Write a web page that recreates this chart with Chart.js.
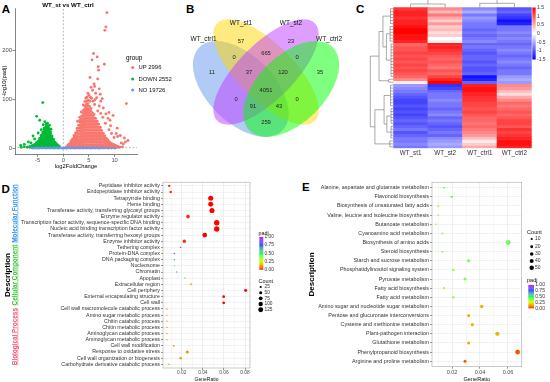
<!DOCTYPE html>
<html><head><meta charset="utf-8">
<script src="https://cdn.jsdelivr.net/npm/chart.js@4.4.1/dist/chart.umd.min.js"></script>
<style>
html,body{margin:0;padding:0;background:#fff;}
body{width:550px;height:382px;position:relative;overflow:hidden;font-family:"Liberation Sans",Arial,sans-serif;}
canvas{position:absolute;}
.lt{position:absolute;font-weight:bold;font-size:11.5px;line-height:11.5px;color:#000;}
</style></head><body>
<div class="lt" style="left:1.7px;top:3.5px">A</div>
<div class="lt" style="left:186px;top:3.5px">B</div>
<div class="lt" style="left:356px;top:3.5px">C</div>
<div class="lt" style="left:1.5px;top:183.5px">D</div>
<div class="lt" style="left:302px;top:181.5px">E</div>
<script>
// ---------------- DATA ----------------
// Panel A (volcano): estimated point clouds [log2FC, [-log10(padj) ...]]
const groupNames = ['UP','DOWN','NO'];
const groupCounts = [2996, 2552, 19726];
const fcThreshold = 0;
const padjThreshold = 1.3;
const xTicksA = [-5, 0, 5, 10];
const yTicksA = [0, 100, 200];
const upCloud = [
 [0.6,[1,3]],[0.9,[1,4,7]],[1.2,[2,5,9]],[1.5,[1,4,8,12,15]],[1.8,[2,6,10,14,19]],
 [2.1,[1,5,9,13,17,22,26]],[2.4,[2,6,11,16,21,26,31]],[2.7,[1,5,10,15,20,25,31,36,41]],
 [3.0,[2,7,12,17,23,29,35,41,47]],[3.3,[1,5,10,16,22,28,34,40,46,53,58]],
 [3.6,[2,7,13,19,25,31,37,43,49,55,61,66]],[3.9,[1,5,11,17,23,29,35,41,47,53,59,65,71,77]],
 [4.2,[2,8,14,20,26,32,38,44,50,56,62,68,74,80,86]],[4.5,[1,6,12,18,24,30,36,42,48,54,60,66,72,78,84,90,96]],
 [4.8,[2,8,14,20,26,32,38,44,50,56,62,68,74,80,86,91]],[5.1,[1,6,12,18,24,30,36,42,48,54,60,66,72,78,85]],
 [5.4,[2,8,14,20,26,32,38,44,50,56,62,68,75,81]],[5.7,[1,6,12,18,24,30,36,42,48,54,60,66,72]],
 [6.0,[2,8,14,20,26,32,38,44,50,56,62,69]],[6.3,[1,6,12,18,24,30,36,42,48,54,61]],
 [6.6,[2,8,14,20,26,32,38,44,50,55]],[6.9,[1,6,12,18,24,30,36,42,49]],[7.2,[2,8,14,20,26,32,38,43]],
 [7.5,[1,6,12,18,24,30,36]],[7.8,[2,7,12,18,24,30]],[8.1,[1,5,10,15,20,25]],[8.4,[2,6,10,15,20]],
 [8.7,[1,5,9,13,17]],[9.0,[2,5,9,13]],[9.4,[1,4,7,10]],[9.8,[2,5,8]],[10.2,[1,4,6]],[10.6,[2,4]],[11.0,[2]],[11.5,[3]]
];
const upOutliers = [[8.5,276],[8.3,247],[8.1,240],[5.9,193],[6.6,186],[5.6,180],[8.0,171],[6.8,166],[6.9,159],[5.2,144],
 [6.0,131],[5.4,124],[7.0,121],[6.3,112],[12.3,91],[9.7,67],[8.3,70],[10.3,30],[4.6,104],[5.0,108],[5.3,104],[7.3,96],
 [7.8,82],[8.7,61],[9.2,46],[10.6,24],[11.3,11],[12.1,13],[11.7,9],[6.2,99],[5.8,96],[7.0,86],[3.9,88],[4.2,95],[5.5,102],
 [6.1,89],[6.7,76],[7.3,71],[7.7,63],[8.2,51],[8.9,38],[9.4,30],[9.9,22],[4.4,102],[4.8,112],[3.5,74],[3.2,63],[2.8,55],
 [6.5,103],[7.6,101],[6.1,126],[5.7,118],[6.7,141],[8.9,73],[9.1,57],[10.5,41],[11.1,26],[12.6,16],[11.9,21],[7.2,110],[4.9,98],[5.2,96]];
const downCloud = [
 [-0.7,[1,3]],[-1.0,[1,4,6]],[-1.3,[2,5,9]],[-1.6,[1,4,8,12]],[-1.9,[2,6,10,14,18]],[-2.2,[1,5,9,13,17,21,25]],
 [-2.5,[2,6,10,14,18,22,26,30,34]],[-2.8,[1,5,9,13,17,21,25,29,33,37,41]],[-3.1,[2,6,10,14,18,22,26,30,34,38,42,45]],
 [-3.4,[1,5,9,13,17,21,25,29,33,37,41,44]],[-3.7,[2,6,10,14,18,22,26,30,34,38,41]],[-4.0,[1,5,9,13,17,21,25,29,33]],
 [-4.3,[2,6,10,14,18,22,26]],[-4.6,[1,5,9,13,17,20]],[-4.9,[2,6,10,14]],[-5.2,[1,5,9,12]],[-5.6,[2,5,8]],[-6.0,[1,4,6]],
 [-6.5,[2,4]],[-7.0,[2]],[-7.6,[3]],[-8.2,[2]]
];
const downOutliers = [[-4.0,93],[-5.2,65],[-4.6,57],[-3.6,54],[-3.1,51],[-2.7,47],[-5.9,25],[-6.8,13],[-7.6,8],[-4.9,31],
 [-5.6,19],[-3.9,48],[-2.4,39],[-3.3,49],[-4.3,38],[-8.3,6],[-6.3,11]];
const noCloud = [[-6.2,[0.4]],[-5.8,[0.2,0.9]],[-5.4,[0.5]],[-5.0,[0.2,1.0]],[-4.6,[0.6]],[-4.2,[0.3,1.1]],[-3.8,[0.7]],
 [-3.4,[0.2,1.0]],[-3.0,[0.5]],[-2.6,[0.3,1.1]],[-2.2,[0.6]],[-1.8,[0.2,1.0]],[-1.4,[0.5,1.2]],[-1.0,[0.2,0.8]],
 [-0.6,[0.4,1.1]],[-0.2,[0.1,0.7]],[0.2,[0.3,1.0]],[0.6,[0.1,0.6]],[1.0,[0.4,1.1]],[1.4,[0.2,0.8]],[1.8,[0.5,1.2]],
 [2.2,[0.2,0.9]],[2.6,[0.6]],[3.0,[0.3,1.1]],[3.4,[0.7]],[3.8,[0.2,1.0]],[4.2,[0.5]],[4.6,[0.3,1.1]],[5.0,[0.6]],
 [5.4,[0.2,0.9]],[5.8,[0.5]],[6.2,[0.3,1.0]],[6.6,[0.6]],[7.0,[0.2]],[7.4,[0.5]],[7.8,[0.3]],[8.3,[0.4]],[8.8,[0.2]],[9.4,[0.3]],[10.0,[0.2]]];

// Panel B (Venn)
const vennSets = ['WT_ctrl1','WT_st1','WT_st2','WT_ctrl2'];
const vennCounts = [57,23,11,665,35,0,0,37,120,4051,0,0,91,43,259];

// Panel C (heatmap, rows x [WT_st1, WT_st2, WT_ctrl1, WT_ctrl2])
const heatSamples = ['WT_st1','WT_st2','WT_ctrl1','WT_ctrl2'];
const heatRows = [
 [1.2,0.7,-0.7,-1.0],[1.3,0.4,-0.5,-0.9],[1.3,0.8,-0.8,-1.1],[1.2,0.5,-0.6,-1.2],[1.3,0.3,-0.7,-1.4],[1.3,0.6,-0.8,-1.3],
 [1.4,0.3,-0.8,-0.8],[1.5,0.4,-0.9,-0.8],[1.5,0.2,-0.8,-0.7],[1.4,0.3,-0.9,-0.8],[1.4,0.0,-0.8,-0.7],[1.3,0.1,-0.7,-0.8],
 [0.9,1.3,-0.9,-0.9],[1.0,1.3,-0.8,-0.8],[1.0,1.2,-0.9,-0.7],[1.1,1.1,-1.0,-0.8],[1.0,1.0,-0.9,-0.9],[1.1,0.9,-0.9,-0.8],
 [1.0,1.0,-1.0,-0.7],[1.1,0.9,-0.9,-0.8],[1.0,0.8,-1.0,-0.9],[1.1,1.0,-1.0,-0.8],[1.0,0.9,-0.9,-0.8],[0.9,1.1,-1.4,-0.6],
 [0.7,1.3,-1.3,-0.5],[0.1,1.5,-0.9,-0.6],
 [-0.6,-1.2,1.3,0.7],[-0.7,-1.1,1.4,0.6],[-0.8,-0.9,1.4,0.4],[-0.9,-0.8,1.3,0.2],[-1.0,-0.8,1.2,0.5],[-1.1,-0.7,1.2,0.7],
 [-1.1,-0.8,1.1,0.9],[-1.0,-0.8,1.1,0.8],[-1.1,-0.9,1.0,0.9],[-1.0,-0.8,1.1,1.0],[-1.1,-0.7,1.0,0.9],[-1.0,-0.9,0.9,1.0],
 [-0.9,-0.8,0.9,1.1],[-1.0,-0.9,0.8,1.1],[-0.9,-1.0,0.9,1.0],[-0.8,-0.9,0.8,1.2],[-1.0,-0.8,0.7,1.1],[-0.9,-0.9,0.6,1.2],
 [-0.8,-0.7,0.4,1.3],[-0.8,-0.6,0.1,1.4],[-0.7,-0.5,0.3,1.4],[-0.8,-0.6,0.5,1.3]
];
const heatLegendTicks = [1.5,1,0.5,0,-0.5,-1,-1.5];
// dendrograms: [height, left, right]; {g:[firstRow,lastRow], h}
const rowTree = [1.0,
  [0.62, [0.45, {g:[0,5],h:0.12}, [0.3, {g:[6,11],h:0.14}, {g:[12,23],h:0.1}]], {g:[24,25],h:0.2}],
  [0.8, [0.4, {g:[26,33],h:0.12}, [0.28, {g:[34,39],h:0.1}, {g:[40,44],h:0.1}]], {g:[45,47],h:0.15}]];
const colTree = [1.0, [0.33, 0, 1], [0.4, 2, 3]];

// Panel D (GO enrichment)
const dTerms = ["Peptidase inhibitor activity","Endopeptidase inhibitor activity","Tetrapyrrole binding","Heme binding",
 "Transferase activity, transferring glycosyl groups","Enzyme regulator activity",
 "Transcription factor activity, sequence-specific DNA binding","Nucleic acid binding transcription factor activity",
 "Transferase activity, transferring hexosyl groups","Enzyme inhibitor activity","Tethering complex","Protein-DNA complex",
 "DNA packaging complex","Nucleosome","Chromatin","Apoplast","Extracellular region","Cell periphery",
 "External encapsulating structure","Cell wall","Cell wall macromolecule catabolic process","Amino sugar metabolic process",
 "Chitin catabolic process","Chitin metabolic process","Aminoglycan catabolic process","Aminoglycan metabolic process",
 "Cell wall modification","Response to oxidative stress","Cell wall organization or biogenesis","Carbohydrate derivative catabolic process"];
const dRatio = [0.0082,0.0096,0.0475,0.0475,0.0487,0.026,0.0532,0.0532,0.0418,0.0225,0.019,0.013,0.013,0.013,0.0152,0.0228,
 0.0288,0.0806,0.0598,0.0598,0.0061,0.0061,0.0061,0.0061,0.0061,0.0061,0.0124,0.0253,0.019,0.008];
const dCount = [30,30,130,128,135,65,150,150,115,58,10,12,12,11,13,18,22,46,40,40,10,10,10,10,10,10,18,50,30,12];
const dPadj = [0.01,0.01,0,0,0,0.01,0,0,0,0.01,0.97,0.9,0.66,0.57,0.62,0.37,0.14,0,0,0,0.11,0.11,0.11,0.11,0.11,0.11,0.11,0.1,0.1,0.1];
const dGroups = [["Molecular Function",0,9],["Cellular Component",10,19],["Biological Process",20,29]];
const dCountLegend = [25,50,75,100,125];
const dTicks = [0.01,0.02,0.03,0.04,0.05,0.06,0.07,0.08];

// Panel E (KEGG enrichment)
const eTerms = ["Alanine, aspartate and glutamate metabolism","Flavonoid biosynthesis","Biosynthesis of unsaturated fatty acids",
 "Valine, leucine and isoleucine biosynthesis","Butanoate metabolism","Cyanoamino acid metabolism","Biosynthesis of amino acids",
 "Steroid biosynthesis","Starch and sucrose metabolism","Phosphatidylinositol signaling system","Pyruvate metabolism",
 "Fatty acid biosynthesis","Fatty acid metabolism","Amino sugar and nucleotide sugar metabolism","Pentose and glucuronate interconversions",
 "Cysteine and methionine metabolism","Plant-pathogen interaction","Glutathione metabolism","Phenylpropanoid biosynthesis","Arginine and proline metabolism"];
const eRatio = [0.0143,0.0198,0.0102,0.0102,0.0086,0.0131,0.0602,0.0131,0.0319,0.0209,0.0293,0.0143,0.0209,0.0412,0.0319,0.0345,0.0524,0.0319,0.0669,0.0293];
const eCount = [9,14,7,7,6,9,62,9,25,14,22,11,14,32,24,26,45,24,60,22];
const ePadj = [0.44,0.42,0.36,0.36,0.36,0.4,0.43,0.4,0.42,0.4,0.42,0.36,0.37,0.15,0.14,0.14,0.15,0.14,0.03,0.04];
const eCountLegend = [10,20,30,40,50];
const eTicks = [0.01,0.02,0.03,0.04,0.05,0.06];
const padjLegend = [1,0.75,0.5,0.25,0];

// ---------------- HELPERS ----------------
const FONT = '"Liberation Sans", Arial, Helvetica, sans-serif';
Chart.defaults.font.family = FONT;
Chart.defaults.animation = false;
Chart.defaults.plugins.legend.display = false;
Chart.defaults.plugins.tooltip.enabled = false;

function mk(left, top, W, H){
  const c = document.createElement('canvas'); c.width = W; c.height = H;
  c.style.cssText = `left:${left}px;top:${top}px;width:${W}px;height:${H}px`;
  document.body.appendChild(c); return c;
}
function txt(ctx, s, x, y, o={}){
  ctx.save();
  ctx.font = `${o.bold?'bold ':''}${o.size||6}px ${FONT}`;
  ctx.fillStyle = o.color || '#000';
  ctx.textAlign = o.align || 'left';
  ctx.textBaseline = o.base || 'middle';
  if (o.rot){ ctx.translate(x,y); ctx.rotate(o.rot); ctx.fillText(s,0,0); }
  else ctx.fillText(s,x,y);
  const w = ctx.measureText(s).width;
  ctx.restore();
  return w;
}
const flat = cols => cols.flatMap(([x,ys]) => ys.map(y => ({x,y})));
const pts = arr => arr.map(([x,y]) => ({x,y}));

// colour scales
function heatColor(v){
  v = Math.max(-1.5, Math.min(1.5, v));
  if (v < 0){ const c = Math.round(255*(v+1.5)/1.5); return `rgb(${c},${c},255)`; }
  const c = Math.round(255*(1 - v/1.5)); return `rgb(255,${c},${c})`;
}
function s2l(c){c/=255;return c<=0.04045?c/12.92:Math.pow((c+0.055)/1.055,2.4);}
function l2s(c){c=c<=0.0031308?12.92*c:1.055*Math.pow(c,1/2.4)-0.055;return Math.round(Math.max(0,Math.min(1,c))*255);}
function hex2rgb(h){return [parseInt(h.slice(1,3),16),parseInt(h.slice(3,5),16),parseInt(h.slice(5,7),16)];}
function rgb2lab([r,g,b]){r=s2l(r);g=s2l(g);b=s2l(b);
  const X=(0.4124*r+0.3576*g+0.1805*b)/0.95047, Y=0.2126*r+0.7152*g+0.0722*b, Z=(0.0193*r+0.1192*g+0.9505*b)/1.08883;
  const f=t=>t>0.008856?Math.cbrt(t):7.787*t+16/116; const fx=f(X),fy=f(Y),fz=f(Z);
  return [116*fy-16,500*(fx-fy),200*(fy-fz)];}
function lab2rgb([L,a,b]){const fy=(L+16)/116,fx=fy+a/500,fz=fy-b/200;
  const fi=t=>t*t*t>0.008856?t*t*t:(t-16/116)/7.787;
  const X=fi(fx)*0.95047,Y=fi(fy),Z=fi(fz)*1.08883;
  return [l2s(3.2406*X-1.5372*Y-0.4986*Z), l2s(-0.9689*X+1.8758*Y+0.0415*Z), l2s(0.0557*X-0.2040*Y+1.0570*Z)];}
const padjStops = ['#FF0000','#CCFF00','#00FF66','#0066FF','#CC00FF'].map(h=>rgb2lab(hex2rgb(h)));
function padjColor(p){
  const t = Math.max(0,Math.min(1,p))*(padjStops.length-1);
  const i = Math.min(padjStops.length-2, Math.floor(t)), f = t - i;
  const a = padjStops[i], b = padjStops[i+1];
  const c = lab2rgb([a[0]+(b[0]-a[0])*f, a[1]+(b[1]-a[1])*f, a[2]+(b[2]-a[2])*f]);
  return `rgb(${c[0]},${c[1]},${c[2]})`;
}

// ---------------- PANEL A ----------------
(function(){
  const W=180, H=172, area={l:15,t:8,r:137,b:154.3};
  const colors = ['#F8766D','#00BA38','#619CFF'];
  const legY = [67.5, 79, 90];
  const plug = {id:'pa', afterDraw(ch){
    const c = ch.ctx, a = ch.chartArea;
    txt(c,'WT_st vs WT_ctrl',68,4.8,{bold:true,size:6.2,align:'center'});
    txt(c,'log2FoldChange',(a.left+a.right)/2,166,{size:5.8,align:'center'});
    txt(c,'-log10(padj)',4.3,(a.top+a.bottom)/2,{size:5.8,align:'center',rot:-Math.PI/2});
    txt(c,'group',126,58.5,{size:6.4});
    groupNames.forEach((g,i)=>{
      c.fillStyle = colors[i]; c.beginPath(); c.arc(132.7,legY[i],1.5,0,2*Math.PI); c.fill();
      txt(c, g+' '+groupCounts[i], 138.5, legY[i], {size:5.9,color:'#111'});
    });
  }};
  new Chart(mk(0,0,W,H), {
    type:'scatter',
    data:{datasets:[
      {type:'line', data:[{x:fcThreshold,y:-50},{x:fcThreshold,y:400}], borderColor:'#8a8a8a', borderWidth:0.6, borderDash:[2,1.6], pointRadius:0, fill:false},
      {type:'line', data:[{x:-30,y:padjThreshold},{x:30,y:padjThreshold}], borderColor:'#8a8a8a', borderWidth:0.6, borderDash:[2,1.6], pointRadius:0, fill:false},
      {data: flat(noCloud), backgroundColor:colors[2], pointRadius:1.2, borderWidth:0},
      {data: flat(downCloud).concat(pts(downOutliers)), backgroundColor:colors[1], pointRadius:1.45, borderWidth:0},
      {data: flat(upCloud).concat(pts(upOutliers)), backgroundColor:colors[0], pointRadius:1.45, borderWidth:0}
    ]},
    options:{responsive:false, animation:false,
      layout:{autoPadding:false, padding:{left:0, top:area.t, right:W-area.r, bottom:0}},
      scales:{
        x:{type:'linear', min:-9.41, max:14.36,
           afterBuildTicks:s=>{s.ticks = xTicksA.map(v=>({value:v}));}, afterFit:s=>{s.height = H-area.b;},
           grid:{drawOnChartArea:false, tickLength:2.5, tickColor:'#333', tickWidth:0.6},
           border:{color:'#333', width:0.6},
           ticks:{font:{size:5.8}, color:'#4D4D4D', padding:0, maxRotation:0, autoSkip:false}},
        y:{type:'linear', min:-12.2, max:285.5,
           afterBuildTicks:s=>{s.ticks = yTicksA.map(v=>({value:v}));}, afterFit:s=>{s.width = area.l;},
           grid:{drawOnChartArea:false, tickLength:2.5, tickColor:'#333', tickWidth:0.6},
           border:{color:'#333', width:0.6},
           ticks:{font:{size:5.8}, color:'#4D4D4D', padding:0.5}}
      }},
    plugins:[plug]
  });
})();

// ---------------- PANEL B ----------------
(function(){
  const W=186, H=190;
  const labelPos = [[241,41],[291,41],[212,72],[266,53],[320,72],[234,57],[297,57],[249,72],[283,72],[266,90],[236,99],[297,99],[253,106],[279,106],[266,122]];
  const setPos = [[203.5,39],[241,23],[291,23],[329,39]];
  const ell = [{cx:240.8,cy:89,a:58.8,b:33.6,rot:45},{cx:266,cy:72,a:69,b:28,rot:45},{cx:266,cy:72,a:69,b:28,rot:-45},{cx:291.2,cy:89,a:58.8,b:33.6,rot:-45}];
  const fills = ['rgba(100,149,237,0.5)','rgba(255,215,0,0.5)','rgba(191,62,255,0.5)','rgba(0,255,0,0.5)'];
  const plug = {id:'pb',
    beforeDatasetsDraw(ch){
      const c=ch.ctx, X=ch.scales.x, Y=ch.scales.y;
      const k=(X.getPixelForValue(100)-X.getPixelForValue(0))/100;
      ell.forEach((e,i)=>{ c.save(); c.fillStyle=fills[i]; c.beginPath();
        c.ellipse(X.getPixelForValue(e.cx), Y.getPixelForValue(e.cy), e.a*k, e.b*k, e.rot*Math.PI/180, 0, 2*Math.PI);
        c.fill(); c.restore(); });
    },
    afterDatasetsDraw(ch){
      const c=ch.ctx, X=ch.scales.x, Y=ch.scales.y;
      ch.getDatasetMeta(0).data.forEach((p,i)=> txt(c,String(vennCounts[i]),p.x,p.y,{size:5.8,align:'center',color:'#222'}));
      vennSets.forEach((s,i)=> txt(c,s,X.getPixelForValue(setPos[i][0]),Y.getPixelForValue(setPos[i][1]),{size:6.5,align:'center',color:'#111'}));
    }};
  new Chart(mk(180,0,W,H), {
    type:'scatter',
    data:{datasets:[{data: pts(labelPos), pointRadius:0}]},
    options:{responsive:false, animation:false, layout:{autoPadding:false, padding:0},
      scales:{x:{type:'linear',min:180,max:366,display:false}, y:{type:'linear',min:0,max:190,reverse:true,display:false}}},
    plugins:[plug]
  });
})();

// ---------------- PANEL C ----------------
(function(){
  const W=184, H=160, area={l:27.3,t:7.3,r:165.7,b:148.3};
  const plug = {id:'pc', afterDraw(ch){
    const c=ch.ctx, xs=ch.scales.x, ys=ch.scales.y, a=ch.chartArea;
    c.save(); c.strokeStyle='#555'; c.lineWidth=0.5;
    const L=(x1,y1,x2,y2)=>{c.beginPath();c.moveTo(x1,y1);c.lineTo(x2,y2);c.stroke();};
    const hx = h => a.left - h*23;
    function rrec(n){
      if (!Array.isArray(n)){
        const x=hx(n.h), ya=ys.getPixelForValue(n.g[0]+0.5), yb=ys.getPixelForValue(n.g[1]+0.5);
        for (let r=n.g[0]; r<=n.g[1]; r++){ const y=ys.getPixelForValue(r+0.5); L(x,y,a.left,y); }
        L(x,ya,x,yb); return {x, y:(ya+yb)/2};
      }
      const [h,l,r]=n, A=rrec(l), B=rrec(r), x=hx(h);
      L(A.x,A.y,x,A.y); L(B.x,B.y,x,B.y); L(x,A.y,x,B.y); return {x, y:(A.y+B.y)/2};
    }
    rrec(rowTree);
    const vy = h => a.top - h*10;
    function crec(n){
      if (!Array.isArray(n)) return {x:xs.getPixelForValue(n), y:a.top};
      const [h,l,r]=n, A=crec(l), B=crec(r), y=vy(h);
      L(A.x,A.y,A.x,y); L(B.x,B.y,B.x,y); L(A.x,y,B.x,y); return {x:(A.x+B.x)/2, y};
    }
    crec(colTree);
    c.restore();
    // colour bar
    const cbx=166.3, cbw=3.4, cby=7.5, cbh=52;
    const g=c.createLinearGradient(0,cby,0,cby+cbh);
    for (let k=0;k<=30;k++) g.addColorStop(k/30, heatColor(1.5-3*k/30));
    c.fillStyle=g; c.fillRect(cbx,cby,cbw,cbh);
    heatLegendTicks.forEach(v=> txt(c,String(v),cbx+cbw+1.3,cby+(1.5-v)/3*cbh,{size:5,color:'#333'}));
  }};
  new Chart(mk(366,0,W,H), {
    type:'bar',
    data:{labels:heatSamples, datasets: heatRows.map(row=>({data:row.map(()=>1), backgroundColor:row.map(heatColor), borderWidth:0, barPercentage:1, categoryPercentage:1, stack:'h'}))},
    options:{responsive:false, animation:false,
      layout:{autoPadding:false, padding:{left:0, top:area.t, right:W-area.r, bottom:0}},
      scales:{
        x:{stacked:true, grid:{display:false, drawTicks:false}, border:{display:false},
           ticks:{font:{size:6.3}, color:'#333', padding:1.2, maxRotation:0, autoSkip:false},
           afterFit:s=>{s.height=H-area.b;}},
        y:{stacked:true, min:0, max:heatRows.length, reverse:true, grid:{display:false, drawTicks:false}, border:{display:false},
           ticks:{display:false}, afterFit:s=>{s.width=area.l;}}
      }},
    plugins:[plug]
  });
})();

// ---------------- PANELS D & E ----------------
function dotPlot(cfg){
  const {left, top, W, H, area, terms, ratio, count, padj, rFn, xMin, xMax, ticks, fs} = cfg;
  const isMajor = v => Math.round(v*100) % 2 === 0;
  const plug = {id:'dot'+left,
    afterDatasetsDraw(ch){
      const c=ch.ctx, a=ch.chartArea; c.save(); c.strokeStyle='#A8A8A8'; c.lineWidth=0.6;
      c.strokeRect(a.left,a.top,a.right-a.left,a.bottom-a.top); c.restore();
    },
    afterDraw(ch){
      const c=ch.ctx, a=ch.chartArea, ys=ch.scales.y, cy=(a.top+a.bottom)/2;
      txt(c,'GeneRatio',(a.left+a.right)/2,cfg.xTitleY,{size:fs.xTitle,align:'center',color:'#111'});
      txt(c,'Description',cfg.descX,cy,{size:8,bold:true,align:'center',base:'alphabetic',rot:-Math.PI/2});
      if (cfg.groups){
        cfg.groups.forEach(([name,r0,r1],i)=>{
          const yc=(ys.getPixelForValue(r0)+ys.getPixelForValue(r1))/2;
          const w=txt(c,name,16.8,yc,{size:6.4,bold:true,align:'center',base:'alphabetic',rot:-Math.PI/2,color:cfg.groupColors[i]});
          c.save(); c.strokeStyle=cfg.groupColors[i]; c.globalAlpha=0.75; c.lineWidth=0.8;
          c.beginPath(); c.moveTo(17.8,yc-w/2); c.lineTo(17.8,yc+w/2); c.stroke(); c.restore();
        });
      }
      const L=cfg.leg;
      txt(c,'padj',L.px,L.pTitleY,{size:fs.legTitle,color:'#111'});
      const g=c.createLinearGradient(0,L.cbTop,0,L.cbBot);
      for (let k=0;k<=40;k++) g.addColorStop(k/40,padjColor(1-k/40));
      c.fillStyle=g; c.fillRect(L.cbX,L.cbTop,L.cbW,L.cbBot-L.cbTop);
      padjLegend.forEach(v=> txt(c,v.toFixed(2),L.cbX+L.cbW+1.2,L.cbTop+(1-v)*(L.cbBot-L.cbTop),{size:fs.leg,color:'#333'}));
      txt(c,'Count',L.px,L.cTitleY,{size:fs.legTitle,color:'#111'});
      cfg.countLegend.forEach((v,i)=>{
        c.fillStyle='#000'; c.beginPath(); c.arc(L.dotX,L.dotY[i],rFn(v),0,2*Math.PI); c.fill();
        txt(c,String(v),L.labX,L.dotY[i],{size:fs.leg,color:'#333'});
      });
    }};
  return new Chart(mk(left,top,W,H), {
    type:'bubble',
    data:{datasets:[{data: terms.map((t,i)=>({x:ratio[i], y:i, r:rFn(count[i])})), backgroundColor: padj.map(padjColor), borderWidth:0, hoverRadius:0}]},
    options:{responsive:false, animation:false,
      layout:{autoPadding:false, padding:{left:0, top:area.t, right:W-area.r, bottom:0}},
      scales:{
        x:{type:'linear', min:xMin, max:xMax,
           afterBuildTicks:s=>{s.ticks=ticks.map(v=>({value:v}));}, afterFit:s=>{s.height=H-area.b;},
           grid:{color:c=>isMajor(c.tick.value)?'#E4E4E4':'#F2F2F2', lineWidth:0.6,
                 tickColor:c=>isMajor(c.tick.value)?'#444':'rgba(0,0,0,0)', tickLength:2, tickWidth:0.6},
           border:{display:false},
           ticks:{callback:v=>isMajor(v)?v.toFixed(2):'', font:{size:fs.tick}, color:'#4D4D4D', padding:fs.tickPad, maxRotation:0, autoSkip:false}},
        y:{type:'linear', reverse:true, min:-0.6, max:terms.length-0.4,
           afterBuildTicks:s=>{s.ticks=terms.map((t,i)=>({value:i}));}, afterFit:s=>{s.width=area.l;},
           grid:{color:'#EAEAEA', lineWidth:0.6, tickColor:'#444', tickLength:2, tickWidth:0.6},
           border:{display:false},
           ticks:{callback:v=>terms[v], font:{size:fs.lab}, color:'#333', padding:1, autoSkip:false}}
      }},
    plugins:[plug]
  });
}

dotPlot({left:0, top:178, W:280, H:204, area:{l:163,t:3,r:250,b:190},
  terms:dTerms, ratio:dRatio, count:dCount, padj:dPadj, rFn:c=>0.22*Math.sqrt(c),
  xMin:0.0023, xMax:0.0847, ticks:dTicks, countLegend:dCountLegend,
  fs:{tick:4.8, tickPad:0, lab:5.3, xTitle:5, legTitle:5.4, leg:4.8},
  xTitleY:202, descX:10.3, groups:dGroups, groupColors:['#2E93F0','#33C633','#F0506E'],
  leg:{px:258.5, pTitleY:55.7, cbX:259.3, cbW:4, cbTop:59, cbBot:91.7, cTitleY:103.3, dotX:260.7, dotY:[109,114.7,120.3,126,131.7], labX:264.5}});

dotPlot({left:280, top:178, W:270, H:204, area:{l:152,t:3.7,r:241.7,b:188.7},
  terms:eTerms, ratio:eRatio, count:eCount, padj:ePadj, rFn:c=>0.3*Math.sqrt(c)+0.1,
  xMin:0.0057, xMax:0.0698, ticks:eTicks, countLegend:eCountLegend,
  fs:{tick:5.5, tickPad:0.7, lab:5.4, xTitle:5.6, legTitle:5.6, leg:5},
  xTitleY:201.3, descX:34, groups:null,
  leg:{px:247, pTitleY:102, cbX:248.3, cbW:5.7, cbTop:107, cbBot:130.3, cTitleY:54.7, dotX:251.7, dotY:[61,68.7,76,83,89.7], labX:255}});
</script>
</body></html>
